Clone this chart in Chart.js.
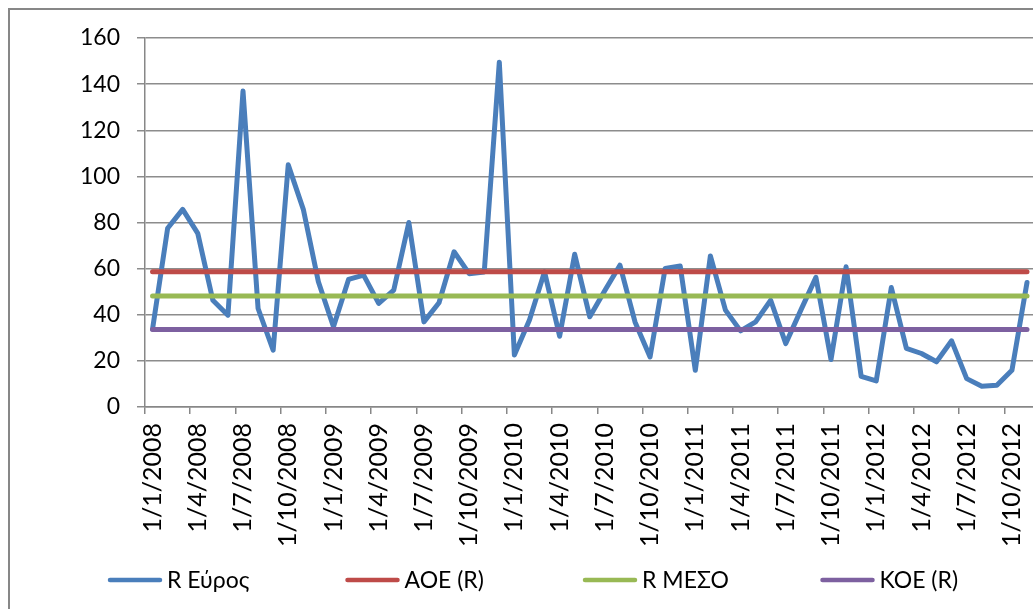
<!DOCTYPE html>
<html>
<head>
<meta charset="utf-8">
<script src="https://cdn.jsdelivr.net/npm/chart.js@4"></script>
<style>
  html, body { margin: 0; padding: 0; background: #fff; overflow: hidden; }
  #frame { position: absolute; left: 8px; top: 8px; width: 1100px; height: 700px;
           border-left: 2px solid #878787; border-top: 2px solid #878787; }
  #chart { position: absolute; left: 0; top: 0; }
</style>
</head>
<body>
<div id="frame"></div>
<canvas id="chart" width="1066" height="609"></canvas>
<script>
// monthly categories, Jan 2008 .. Nov 2012
const startYear = 2008;
const monthCount = 59;
const months = [];
for (let i = 0; i < monthCount; i++) {
    months.push('1/' + (i % 12 + 1) + '/' + (startYear + Math.floor(i / 12)));
}

const rRange = [
    33.8, 77.5, 85.7, 75.3, 46.3, 39.8, 137, 42.7, 24.6, 105,
    85.7, 54.3, 34.8, 55.3, 57.2, 44.9, 50.7, 80, 36.9, 45.2,
    67.3, 57.8, 58.5, 149.5, 22.5, 37.7, 58.6, 30.7, 66.2, 39.1,
    50.5, 61.5, 36.9, 21.7, 60.1, 61.1, 15.9, 65.5, 42.0, 33.0,
    36.9, 46.3, 27.5, 42.0, 56.2, 20.6, 60.8, 13.3, 11.3, 51.8,
    25.4, 23.2, 19.6, 28.7, 12.3, 9.0, 9.4, 15.9, 54.0
];
const uclValue = 58.6;   // ΑΟΕ (R)
const meanValue = 48.1;  // R ΜΕΣΟ
const lclValue = 33.6;   // ΚΟΕ (R)

const yTicks = { min: 0, max: 160, step: 20 };

const seriesNames = ['R Εύρος', 'ΑΟΕ (R)', 'R ΜΕΣΟ', 'ΚΟΕ (R)'];
const seriesColors = ['#4a7ebb', '#be4b48', '#98b954', '#7d60a0'];

const FONT = 'Lato, "Open Sans", sans-serif';
Chart.defaults.font.family = FONT;
Chart.defaults.color = '#000';

function lineSet(idx, data, order) {
    return {
        label: seriesNames[idx],
        data: data,
        borderColor: seriesColors[idx],
        backgroundColor: seriesColors[idx],
        borderWidth: 5,
        borderJoinStyle: 'round',
        borderCapStyle: 'round',
        pointRadius: 0,
        tension: 0,
        fill: false,
        order: order
    };
}

// legend drawn in evenly spaced slots, like the original
const legendPlugin = {
    id: 'slotLegend',
    afterDraw(chart) {
        const ctx = chart.ctx;
        const y = 580, first = 108, slot = 237.5, lineLen = 54;
        ctx.save();
        ctx.font = '23px ' + FONT;
        ctx.textBaseline = 'middle';
        ctx.fillStyle = '#000';
        chart.data.datasets.forEach((ds, i) => {
            const x = first + i * slot;
            ctx.strokeStyle = ds.borderColor;
            ctx.lineWidth = 4.5;
            ctx.lineCap = 'round';
            ctx.beginPath();
            ctx.moveTo(x + 2, y);
            ctx.lineTo(x + lineLen - 2, y);
            ctx.stroke();
            ctx.fillText(ds.label, x + lineLen + 5, y + 1);
        });
        ctx.restore();
    }
};

new Chart(document.getElementById('chart').getContext('2d'), {
    type: 'line',
    data: {
        labels: months,
        datasets: [
            lineSet(0, rRange, 4),
            lineSet(1, Array(monthCount).fill(uclValue), 3),
            lineSet(2, Array(monthCount).fill(meanValue), 2),
            lineSet(3, Array(monthCount).fill(lclValue), 1)
        ]
    },
    options: {
        responsive: false,
        animation: false,
        devicePixelRatio: 1,
        layout: { padding: { top: 38, right: 0, bottom: 52, left: 0 } },
        plugins: { legend: { display: false }, tooltip: { enabled: false } },
        scales: {
            x: {
                offset: true,
                afterFit: s => { s.height = 150; },
                grid: {
                    offset: true,
                    drawOnChartArea: false,
                    tickLength: 7,
                    lineWidth: 1.5,
                    color: c => (c.index % 3 === 0 ? '#878787' : 'rgba(0,0,0,0)')
                },
                border: { color: '#878787', width: 1.5 },
                ticks: {
                    autoSkip: false,
                    minRotation: 90,
                    maxRotation: 90,
                    padding: 9,
                    font: { size: 25 },
                    callback: (v, i) => (i % 3 === 0 ? months[i] : '')
                }
            },
            y: {
                min: yTicks.min,
                max: yTicks.max,
                afterFit: s => { s.width = 145; },
                grid: { color: '#8c8c8c', lineWidth: 1.5, tickLength: 8 },
                border: { color: '#878787', width: 1.5 },
                ticks: { stepSize: yTicks.step, padding: 17, font: { size: 23 } }
            }
        }
    },
    plugins: [legendPlugin]
});
</script>
</body>
</html>
